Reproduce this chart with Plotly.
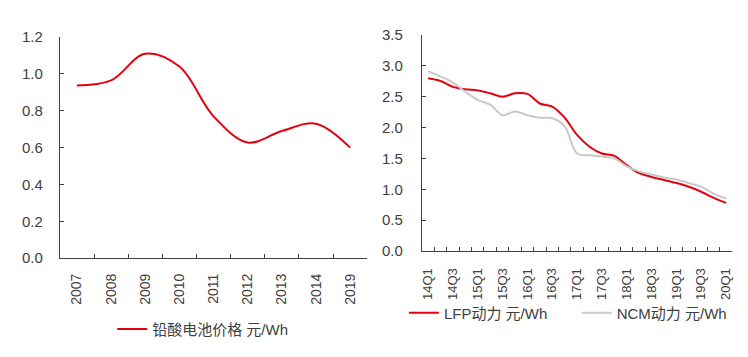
import plotly.graph_objects as go

years = ["2007", "2008", "2009", "2010", "2011", "2012", "2013", "2014", "2019"]
lead_acid = [0.937, 0.965, 1.11, 1.04, 0.77, 0.628, 0.69, 0.73, 0.60]

quarters = ["14Q1", "14Q2", "14Q3", "14Q4", "15Q1", "15Q2", "15Q3", "15Q4",
            "16Q1", "16Q2", "16Q3", "16Q4", "17Q1", "17Q2", "17Q3", "17Q4",
            "18Q1", "18Q2", "18Q3", "18Q4", "19Q1", "19Q2", "19Q3", "19Q4", "20Q1"]
lfp = [2.80, 2.755, 2.66, 2.62, 2.60, 2.555, 2.50, 2.555, 2.545, 2.39, 2.34, 2.16,
       1.88, 1.69, 1.58, 1.54, 1.39, 1.26, 1.20, 1.15, 1.10, 1.04, 0.96, 0.86, 0.78]
ncm = [2.91, 2.83, 2.73, 2.58, 2.45, 2.37, 2.20, 2.26, 2.20, 2.16, 2.15, 2.02,
       1.58, 1.55, 1.53, 1.50, 1.37, 1.29, 1.24, 1.19, 1.16, 1.10, 1.04, 0.93, 0.85]
quarter_ticktext = [q if i % 2 == 0 else "" for i, q in enumerate(quarters)]

RED = "#e3000f"
GRAY = "#c9c9c9"
TXT = "#404040"
FONT = "Liberation Sans, Arial, Noto Sans CJK SC, sans-serif"

fig = go.Figure()
fig.add_trace(go.Scatter(x=years, y=lead_acid, mode="lines", line=dict(color=RED, width=2, shape="spline"),
                         name="铅酸电池价格 元/Wh", xaxis="x", yaxis="y", legend="legend", showlegend=True))
fig.add_trace(go.Scatter(x=quarters, y=lfp, mode="lines", line=dict(color=RED, width=2, shape="spline"),
                         name="LFP动力 元/Wh", xaxis="x2", yaxis="y2", legend="legend2", showlegend=True))
fig.add_trace(go.Scatter(x=quarters, y=ncm, mode="lines", line=dict(color=GRAY, width=2, shape="spline"),
                         name="NCM动力 元/Wh", xaxis="x2", yaxis="y2", legend="legend3", showlegend=True))

def ax(size, standoff):
    return dict(showline=True, linecolor=TXT, linewidth=1, showgrid=False, zeroline=False,
                ticks="inside", tickcolor=TXT, ticklen=4, automargin=False,
                ticklabelstandoff=standoff, tickfont=dict(size=size, color=TXT, family=FONT))

leg_font = dict(size=15, color=TXT, family=FONT)

fig.update_layout(
    width=748, height=357,
    margin=dict(l=0, r=0, t=0, b=0),
    paper_bgcolor="white", plot_bgcolor="white",
    font=dict(family=FONT, color=TXT),
    showlegend=True,
    xaxis=dict(domain=[0.080, 0.491], anchor="y", type="category", tickson="boundaries",
               range=[-0.5, len(years) - 0.5], tickangle=-90, **ax(14, 9)),
    yaxis=dict(domain=[0.277, 0.896], anchor="x", range=[0, 1.2], dtick=0.2, tickformat=".1f",
               **ax(15, 13)),
    xaxis2=dict(domain=[0.564, 0.979], anchor="y2", type="category", tickson="boundaries",
                range=[-0.5, len(quarters) - 0.5],
                tickmode="array", tickvals=quarters, ticktext=quarter_ticktext,
                tickangle=-90, **ax(13, 11)),
    yaxis2=dict(domain=[0.297, 0.902], anchor="x2", range=[0, 3.5], dtick=0.5, tickformat=".1f",
                **ax(15, 15)),
    legend=dict(x=0.150, y=0.078, xanchor="left", yanchor="middle", orientation="h",
                font=leg_font, bgcolor="rgba(0,0,0,0)"),
    legend2=dict(x=0.540, y=0.123, xanchor="left", yanchor="middle", orientation="h",
                 font=leg_font, bgcolor="rgba(0,0,0,0)"),
    legend3=dict(x=0.771, y=0.123, xanchor="left", yanchor="middle", orientation="h",
                 font=leg_font, bgcolor="rgba(0,0,0,0)"),
)

fig.write_html("out.html", config={"displayModeBar": False},
               post_script="document.body.style.margin='0px';")
